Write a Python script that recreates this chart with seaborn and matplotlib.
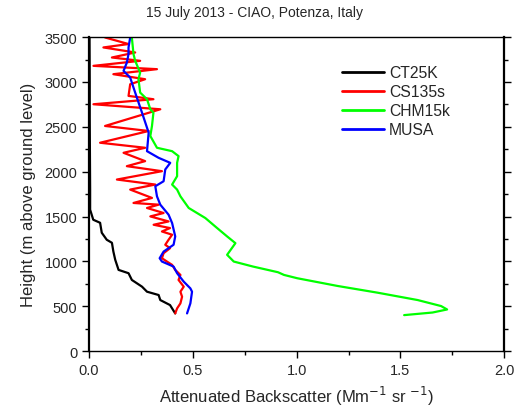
import numpy as np
import pandas as pd
import matplotlib
matplotlib.use("Agg")
import matplotlib.pyplot as plt
import seaborn as sns
from matplotlib.ticker import MultipleLocator

# backscatter profiles (height in m, value in Mm-1 sr-1)
ct25k_h = [421, 514, 570, 626, 663, 719, 794, 869, 906, 1018, 1110, 1208, 1242,
           1320, 1431, 1465, 1577, 1800, 2200, 2600, 3000, 3500]
ct25k_v = [0.415, 0.39, 0.343, 0.335, 0.279, 0.255, 0.206, 0.19, 0.142, 0.126,
           0.117, 0.11, 0.085, 0.061, 0.053, 0.02, 0.005, 0.005, 0.004, 0.003,
           0.003, 0.002]

cs135_h = [421, 477, 533, 607, 663, 719, 794, 850, 906, 962, 999, 1036, 1092,
           1148, 1186, 1242, 1298, 1334, 1372, 1409, 1446, 1502, 1540, 1596,
           1633, 1652, 1708, 1801, 1857, 1913, 2006, 2062, 2118, 2211, 2267,
           2323, 2454, 2510, 2696, 2752, 2808, 2845, 2975, 3031, 3087, 3143,
           3180, 3236, 3273, 3329, 3385, 3423, 3496]
cs135_v = [0.415, 0.424, 0.44, 0.448, 0.44, 0.456, 0.431, 0.44, 0.415, 0.40,
           0.375, 0.351, 0.359, 0.39, 0.367, 0.383, 0.40, 0.351, 0.39, 0.311,
           0.383, 0.295, 0.359, 0.279, 0.335, 0.214, 0.303, 0.198, 0.319, 0.134,
           0.351, 0.182, 0.27, 0.166, 0.27, 0.053, 0.287, 0.077, 0.343, 0.021,
           0.31, 0.19, 0.198, 0.27, 0.117, 0.327, 0.021, 0.246, 0.11, 0.222,
           0.069, 0.19, 0.077]

chm15_h = [402, 431, 465, 503, 570, 652, 727, 813, 850, 880, 943, 999, 1074,
           1204, 1279, 1372, 1484, 1596, 1726, 1801, 1857, 1950, 2099, 2174,
           2229, 2267, 2398, 2510, 2658, 2696, 2808, 2882, 3031, 3105, 3236,
           3311, 3496]
chm15_v = [1.518, 1.655, 1.725, 1.696, 1.583, 1.39, 1.197, 1.003, 0.939, 0.91,
           0.79, 0.697, 0.665, 0.705, 0.665, 0.617, 0.56, 0.48, 0.44, 0.424,
           0.40, 0.424, 0.424, 0.431, 0.40, 0.327, 0.295, 0.303, 0.31, 0.295,
           0.279, 0.246, 0.238, 0.246, 0.222, 0.214, 0.206]

musa_h = [421, 533, 663, 700, 775, 869, 943, 999, 1036, 1110, 1186, 1279, 1428,
          1521, 1633, 1726, 1838, 1894, 2025, 2099, 2155, 2229, 2435, 2658,
          2882, 3049, 3124, 3217, 3311, 3385, 3496]
musa_v = [0.472, 0.488, 0.496, 0.488, 0.456, 0.424, 0.407, 0.351, 0.34, 0.359,
          0.407, 0.415, 0.40, 0.383, 0.343, 0.327, 0.319, 0.359, 0.367, 0.391,
          0.335, 0.279, 0.287, 0.255, 0.222, 0.198, 0.166, 0.182, 0.19, 0.19,
          0.198]

names = ["CT25K", "CS135s", "CHM15k", "MUSA"]
colors = ["#000000", "#ff0000", "#00ff00", "#0000ff"]

frames = []
for name, h, v in zip(names, [ct25k_h, cs135_h, chm15_h, musa_h],
                      [ct25k_v, cs135_v, chm15_v, musa_v]):
    frames.append(pd.DataFrame({"height": h, "beta": v, "instrument": name}))
df = pd.concat(frames, ignore_index=True)

sns.set_style("white")
plt.rcParams["font.family"] = ["Liberation Sans", "DejaVu Sans"]

fig = plt.figure(figsize=(5.15, 4.1), dpi=100)
ax = fig.add_axes([0.173, 0.141, 0.806, 0.766])

sns.lineplot(data=df, x="beta", y="height", hue="instrument", hue_order=names,
             palette=colors, sort=False, estimator=None, linewidth=1.6, ax=ax,
             legend=False)

ax.set_xlim(0, 2.0)
ax.set_ylim(0, 3500)
ax.xaxis.set_major_locator(MultipleLocator(0.5))
ax.xaxis.set_minor_locator(MultipleLocator(0.25))
ax.yaxis.set_major_locator(MultipleLocator(500))
ax.yaxis.set_minor_locator(MultipleLocator(250))
ax.xaxis.set_major_formatter(matplotlib.ticker.FormatStrFormatter("%.1f"))

for s in ax.spines.values():
    s.set_color("black")
ax.spines["left"].set_linewidth(1.6)
ax.spines["right"].set_linewidth(1.6)
ax.spines["bottom"].set_linewidth(1.0)
ax.spines["top"].set_linewidth(1.0)

ax.tick_params(which="both", direction="out", bottom=True, left=True,
               right=True, top=False, labelsize=10.5, color="black")
ax.tick_params(which="major", length=5, width=1)
ax.tick_params(which="minor", length=3, width=1)

ax.set_xlabel("Attenuated Backscatter (Mm$^{-1}$ sr $^{-1}$)", fontsize=12,
              labelpad=5)
ax.set_ylabel("Height (m above ground level)", fontsize=12, labelpad=6)
fig.suptitle("15 July 2013 - CIAO, Potenza, Italy", x=0.495, y=0.985,
             fontsize=10)

handles = [plt.Line2D([], [], color=c, lw=2) for c in colors]
ax.legend(handles, names, loc="upper left", bbox_to_anchor=(0.575, 0.955),
          frameon=False, fontsize=11.3, handlelength=2.7, handletextpad=0.3,
          labelspacing=0.25)

fig.savefig("out.png", dpi=100)
